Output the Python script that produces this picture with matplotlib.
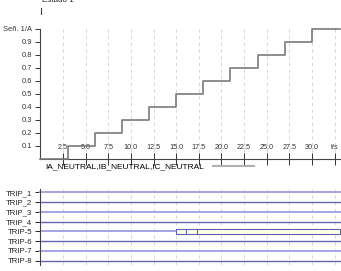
import matplotlib
matplotlib.use('Agg')
import matplotlib.pyplot as plt
from matplotlib.lines import Line2D
from matplotlib.patches import Rectangle

plt.rcParams['font.family'] = ['Liberation Sans', 'DejaVu Sans']

# analog channel: staircase current
step_times = [0, 3, 6, 9, 12, 15, 18, 21, 24, 27, 30, 33.1]
step_vals = [0.0, 0.1, 0.2, 0.3, 0.4, 0.5, 0.6, 0.7, 0.8, 0.9, 1.0, 1.0]
series_name = 'IA_NEUTRAL,IB_NEUTRAL,IC_NEUTRAL'

x_ticks = [2.5, 5.0, 7.5, 10.0, 12.5, 15.0, 17.5, 20.0, 22.5, 25.0, 27.5, 30.0, 32.5]
x_labels = ['2.5', '5.0', '7.5', '10.0', '12.5', '15.0', '17.5', '20.0',
            '22.5', '25.0', '27.5', '30.0', 't/s']
y_ticks = [0.1, 0.2, 0.3, 0.4, 0.5, 0.6, 0.7, 0.8, 0.9, 1.0]
y_labels = ['0.1', '0.2', '0.3', '0.4', '0.5', '0.6', '0.7', '0.8', '0.9', 'Señ. 1/A']

# digital channels
trip_labels = ['TRIP_1', 'TRIP_2', 'TRIP_3', 'TRIP_4', 'TRIP-5', 'TRIP-6', 'TRIP-7', 'TRIP-8']
trip5_on = 15.0
trip5_marks = [16.1, 17.3]
t_end = 33.1

W, H = 341, 271
fig = plt.figure(figsize=(W / 100, H / 100), dpi=100)

grid_kw = dict(color='#d0d0d0', lw=0.6, ls=(0, (4, 4)), zorder=0)

# ---- analog plot
ax1 = fig.add_axes([40.4 / W, 0.4148, 0.8786, 0.4789])
for t in x_ticks:
    ax1.axvline(t, **grid_kw)
ax1.plot(step_times, step_vals, drawstyle='steps-post', color='#7a7a7a', lw=1.2,
         clip_on=False, zorder=3)
ax1.set_xlim(0, t_end)
ax1.set_ylim(0, 1.0)
ax1.set_xticks(x_ticks)
ax1.set_xticklabels(x_labels)
ax1.set_yticks(y_ticks)
ax1.set_yticklabels(y_labels)
ax1.tick_params(axis='x', direction='inout', length=8, width=0.7, pad=-14.5,
                labelsize=5.2, colors='#333333')
ax1.tick_params(axis='y', direction='out', length=3.4, width=0.7, pad=2.5,
                labelsize=5.4, colors='#333333')
for s in ['top', 'right']:
    ax1.spines[s].set_visible(False)
for s in ['left', 'bottom']:
    ax1.spines[s].set_color('#444444')
    ax1.spines[s].set_linewidth(0.8)

handle = Line2D([], [], color='#b0b0b0', lw=1.5)
fig.legend([handle], [series_name], loc='center left',
           bbox_to_anchor=(45.5 / W, 1 - 166.5 / H), frameon=False, fontsize=6.0,
           markerfirst=False, handlelength=5.0, handletextpad=1.0,
           borderpad=0, borderaxespad=0)

fig.text(42 / W, 1 - 1.5 / H, 'Estado 1', fontsize=5.8, color='#222222', va='baseline')
fig.add_artist(Line2D([40.7 / W, 40.7 / W], [1 - 8 / H, 1 - 14 / H],
                      color='#444444', lw=0.8))

# ---- digital plot
ax2 = fig.add_axes([40.4 / W, 0.0221, 0.8786, 0.2805])
for t in x_ticks:
    ax2.axvline(t, **grid_kw)
rows = list(range(len(trip_labels), 0, -1))
for i, (lab, y) in enumerate(zip(trip_labels, rows)):
    col = '#a4a4e4' if i % 2 == 0 else '#6464b4'
    lw = 1.4 if i % 2 == 0 else 1.0
    if lab == 'TRIP-5':
        ax2.plot([0, trip5_on], [y, y], color=col, lw=lw, zorder=2)
        ax2.add_patch(Rectangle((trip5_on, y - 0.27), t_end - trip5_on, 0.54,
                                facecolor='#ffffe6', edgecolor='#6060b0', lw=0.8,
                                zorder=3, clip_on=False))
        for m in trip5_marks:
            ax2.plot([m, m], [y - 0.27, y + 0.27], color='#6060b0', lw=0.8, zorder=4)
    else:
        ax2.plot([0, t_end], [y, y], color=col, lw=lw, zorder=2, clip_on=False)
ax2.set_xlim(0, t_end)
ax2.set_ylim(0.55, 8.35)
ax2.set_yticks(rows)
ax2.set_yticklabels(trip_labels)
ax2.set_xticks([])
ax2.tick_params(axis='y', direction='out', length=3.4, width=0.7, pad=2.5,
                labelsize=5.6, colors='#222222')
for s in ['top', 'right', 'bottom']:
    ax2.spines[s].set_visible(False)
ax2.spines['left'].set_color('#444444')
ax2.spines['left'].set_linewidth(0.8)

fig.savefig('out.png', dpi=100)
